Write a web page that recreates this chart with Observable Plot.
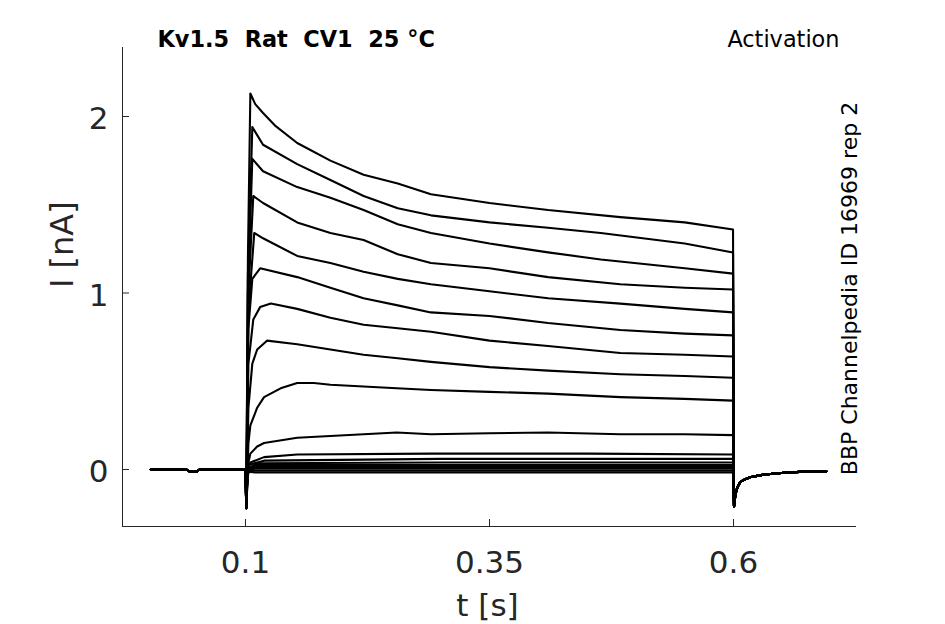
<!DOCTYPE html>
<html>
<head>
<meta charset="utf-8">
<script src="https://cdn.jsdelivr.net/npm/d3@7"></script>
<script src="https://cdn.jsdelivr.net/npm/@observablehq/plot@0.6"></script>
<style>
  html, body { margin: 0; padding: 0; background: #fff; }
  svg text { white-space: pre; }
</style>
</head>
<body>
<div id="chart"></div>
<script>
// ---- texts & ticks ----
const title = "Kv1.5  Rat  CV1  25 °C";
const protocol = "Activation";
const sideNote = "BBP Channelpedia ID 16969 rep 2";
const xLabel = "t [s]";
const yLabel = "I [nA]";
const xTicks = [0.1, 0.35, 0.6];
const xTickLabels = ["0.1", "0.35", "0.6"];
const yTicks = [0, 1, 2];
const yTickLabels = ["0", "1", "2"];
const xDomain = [-0.026, 0.726];
const yDomain = [-0.323, 2.391];

// ---- shared holding segment (before step) and tail (after step) [t (s), I (nA)] ----
const baseline = [[0.003,0],[0.02,0.002],[0.04,-0.002],[0.043,-0.012],[0.05,-0.012],[0.053,0],[0.07,0.001],[0.09,-0.001],[0.0995,0]];
const tail = [[0.6005,-0.21],[0.602,-0.14],[0.604,-0.10],[0.607,-0.07],[0.612,-0.055],[0.617,-0.044],[0.628,-0.032],[0.64,-0.024],[0.655,-0.017],[0.674,-0.012],[0.695,-0.01]];

// ---- test-pulse segments of each sweep [t (s), I (nA)] ----
const sweep1 = [[0.1,0],[0.1008,-0.22],[0.1025,1.2],[0.105,2.13],[0.11,2.07],[0.118,2.02],[0.13,1.95],[0.153,1.85],[0.187,1.75],[0.221,1.67],[0.256,1.62],[0.29,1.56],[0.35,1.51],[0.41,1.47],[0.484,1.43],[0.55,1.40],[0.5995,1.36]];
const sweep2 = [[0.1,0],[0.1008,-0.22],[0.1025,1.1],[0.107,1.94],[0.118,1.84],[0.153,1.73],[0.187,1.64],[0.221,1.55],[0.256,1.48],[0.29,1.44],[0.35,1.40],[0.41,1.37],[0.464,1.34],[0.55,1.28],[0.5995,1.23]];
const sweep3 = [[0.1,0],[0.1008,-0.22],[0.1025,1.0],[0.107,1.76],[0.118,1.69],[0.153,1.60],[0.187,1.54],[0.221,1.47],[0.256,1.39],[0.29,1.34],[0.35,1.28],[0.41,1.23],[0.464,1.19],[0.55,1.14],[0.5995,1.11]];
const sweep4 = [[0.1,0],[0.1008,-0.22],[0.103,1.0],[0.108,1.55],[0.118,1.51],[0.153,1.40],[0.187,1.34],[0.221,1.30],[0.256,1.22],[0.29,1.17],[0.35,1.14],[0.41,1.09],[0.484,1.05],[0.55,1.03],[0.5995,1.02]];
const sweep5 = [[0.1,0],[0.1008,-0.22],[0.103,0.9],[0.109,1.34],[0.118,1.31],[0.153,1.21],[0.187,1.17],[0.221,1.12],[0.256,1.08],[0.29,1.05],[0.35,1.01],[0.41,0.97],[0.484,0.94],[0.55,0.91],[0.5995,0.89]];
const sweep6 = [[0.1,0],[0.1008,-0.22],[0.103,0.8],[0.107,1.08],[0.115,1.14],[0.153,1.09],[0.187,1.03],[0.221,0.97],[0.256,0.93],[0.29,0.89],[0.35,0.87],[0.41,0.83],[0.484,0.79],[0.55,0.77],[0.5995,0.76]];
const sweep7 = [[0.1,0],[0.1008,-0.22],[0.103,0.6],[0.108,0.85],[0.115,0.92],[0.126,0.94],[0.153,0.91],[0.187,0.86],[0.221,0.82],[0.256,0.80],[0.29,0.78],[0.35,0.73],[0.41,0.70],[0.484,0.66],[0.55,0.65],[0.5995,0.64]];
const sweep8 = [[0.1,0],[0.1008,-0.22],[0.103,0.35],[0.107,0.60],[0.112,0.68],[0.122,0.73],[0.153,0.71],[0.187,0.68],[0.221,0.65],[0.256,0.63],[0.29,0.61],[0.35,0.58],[0.41,0.56],[0.484,0.54],[0.55,0.53],[0.5995,0.52]];
const sweep9 = [[0.1,0],[0.1008,-0.22],[0.103,0.15],[0.105,0.25],[0.112,0.35],[0.119,0.41],[0.136,0.46],[0.153,0.49],[0.17,0.49],[0.187,0.48],[0.221,0.47],[0.255,0.46],[0.29,0.45],[0.35,0.44],[0.41,0.43],[0.484,0.41],[0.55,0.40],[0.5995,0.39]];
const sweep10 = [[0.1,0],[0.1008,-0.22],[0.103,0.04],[0.105,0.09],[0.112,0.13],[0.119,0.15],[0.153,0.18],[0.187,0.19],[0.221,0.20],[0.255,0.21],[0.29,0.20],[0.35,0.205],[0.41,0.21],[0.484,0.20],[0.55,0.20],[0.5995,0.195]];
const sweep11 = [[0.1,0],[0.1008,-0.2],[0.102,0.0],[0.105,0.04],[0.119,0.07],[0.153,0.085],[0.29,0.09],[0.45,0.09],[0.5995,0.085]];
const sweep12 = [[0.1,0],[0.1008,-0.2],[0.102,0.0],[0.105,0.03],[0.119,0.05],[0.3,0.06],[0.5995,0.06]];
const sweep13 = [[0.1,0],[0.1008,-0.18],[0.103,0.0],[0.11,0.035],[0.3,0.04],[0.5995,0.04]];
const sweep14 = [[0.1,0],[0.1008,-0.16],[0.103,0.0],[0.11,0.025],[0.5995,0.025]];
const sweep15 = [[0.1,0],[0.1008,-0.14],[0.103,0.0],[0.11,0.014],[0.5995,0.014]];
const sweep16 = [[0.1,0],[0.1008,-0.12],[0.103,0.0],[0.11,0.004],[0.5995,0.004]];
const sweep17 = [[0.1,0],[0.1008,-0.1],[0.103,-0.005],[0.11,-0.007],[0.5995,-0.007]];
const sweep18 = [[0.1,0],[0.1008,-0.08],[0.103,-0.012],[0.11,-0.017],[0.5995,-0.017]];

const sweeps = [sweep1,sweep2,sweep3,sweep4,sweep5,sweep6,sweep7,sweep8,sweep9,sweep10,sweep11,sweep12,sweep13,sweep14,sweep15,sweep16,sweep17,sweep18];

const rows = sweeps.flatMap((pulse, i) =>
  baseline.concat(pulse, tail).map(([t, I]) => ({sweep: i, t, I}))
);

// layout helpers
const W = 945, H = 624, mL = 122, mR = 89, mT = 47, mB = 98;
const tickPx = 7;
const tickLenX = tickPx * (xDomain[1] - xDomain[0]) / (W - mL - mR);
const tickLenY = tickPx * (yDomain[1] - yDomain[0]) / (H - mT - mB);
const axisColor = "#262626";

const chart = Plot.plot({
  width: W, height: H,
  marginLeft: mL, marginRight: mR, marginTop: mT, marginBottom: mB,
  x: {domain: xDomain, axis: null},
  y: {domain: yDomain, axis: null},
  style: {fontFamily: "DejaVu Sans", background: "#fff", color: axisColor, overflow: "visible"},
  marks: [
    Plot.ruleX([xDomain[0]], {stroke: axisColor, strokeWidth: 1}),
    Plot.ruleY([yDomain[0]], {stroke: axisColor, strokeWidth: 1}),
    Plot.ruleX(xTicks, {x: d => d, y1: yDomain[0], y2: yDomain[0] + tickLenY, stroke: axisColor}),
    Plot.ruleY(yTicks, {y: d => d, x1: xDomain[0], x2: xDomain[0] + tickLenX, stroke: axisColor}),
    Plot.line(rows, {x: "t", y: "I", z: "sweep", stroke: "#000", strokeWidth: 2.1, strokeLinejoin: "round"}),
    Plot.text(xTicks, {x: d => d, text: (d, i) => xTickLabels[i], frameAnchor: "bottom", lineAnchor: "bottom", dy: 46, fontSize: 31, fill: axisColor}),
    Plot.text(yTicks, {y: d => d, text: (d, i) => yTickLabels[i], frameAnchor: "left", textAnchor: "end", lineAnchor: "bottom", dx: -14, dy: 12.5, fontSize: 31, fill: axisColor}),
    Plot.text([xLabel], {frameAnchor: "bottom", lineAnchor: "bottom", dx: -2, dy: 89, fontSize: 31, fill: axisColor}),
    Plot.text([yLabel], {frameAnchor: "left", lineAnchor: "bottom", rotate: -90, dx: -50, dy: 1, fontSize: 32, fill: axisColor}),
    Plot.text([title], {frameAnchor: "top-left", textAnchor: "start", lineAnchor: "bottom", dx: 35, dy: -0.5, fontSize: 22.4, fontWeight: "bold", fill: "#000"}),
    Plot.text([protocol], {frameAnchor: "top-right", textAnchor: "end", lineAnchor: "bottom", dx: -17, dy: -1, fontSize: 22.4, fill: "#000"}),
    Plot.text([sideNote], {frameAnchor: "right", textAnchor: "middle", lineAnchor: "bottom", rotate: -90, dx: 0, dy: 1.5, fontSize: 22, fill: "#000"})
  ]
});
document.getElementById("chart").appendChild(chart);
</script>
</body>
</html>
